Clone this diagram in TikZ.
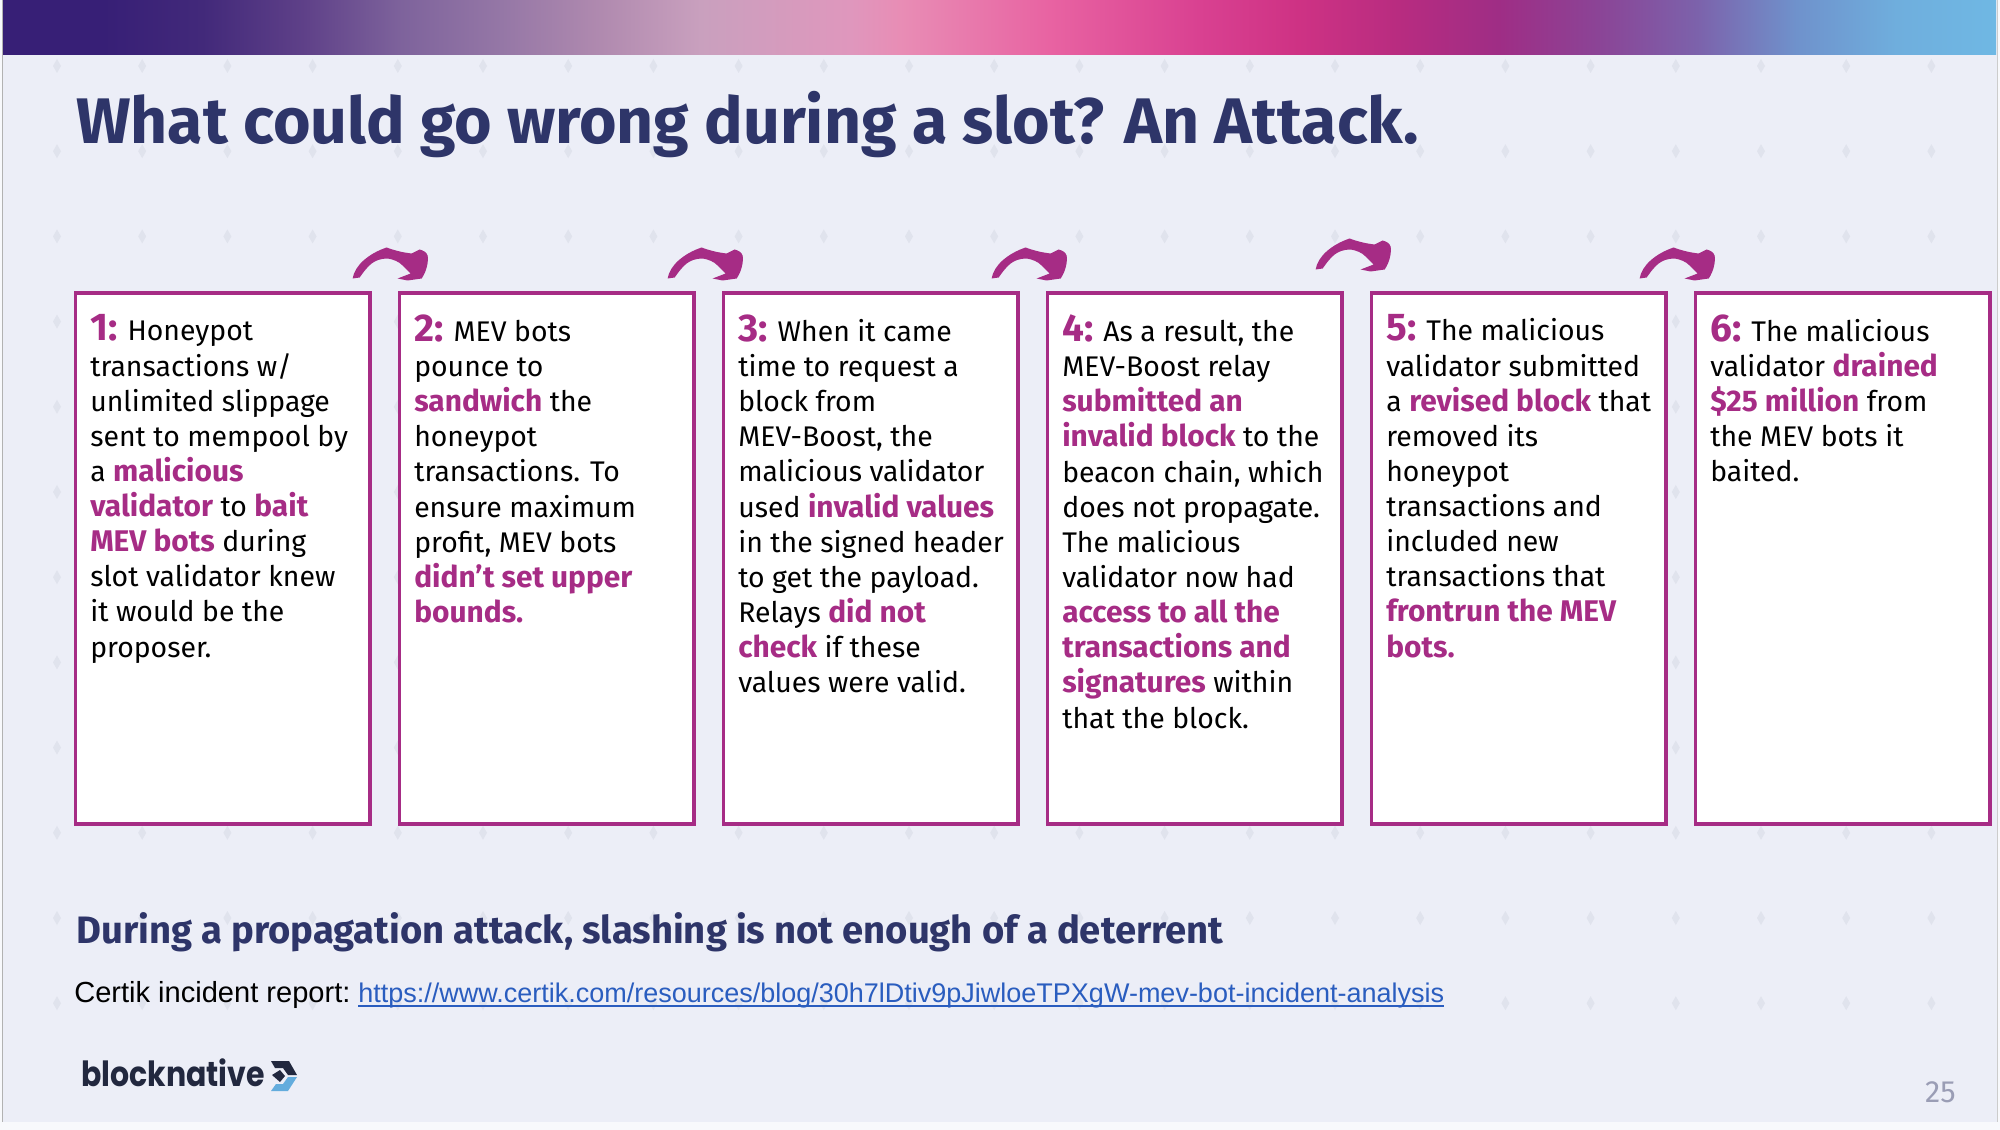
\documentclass[tikz,border=0pt]{standalone}
\usepackage{fontspec}
\setmainfont{Fira Sans}
\newfontfamily\linkfont{Liberation Sans}
\newfontfamily\logofont{Poppins}
\definecolor{bgc}{HTML}{ECEEF7}
\definecolor{edgec}{HTML}{F8F9FC}
\definecolor{dotc}{HTML}{E0E3ED}
\definecolor{mag}{HTML}{A62C85}
\definecolor{navy}{HTML}{2E3569}
\definecolor{linkc}{HTML}{2A5DBF}
\definecolor{logod}{HTML}{22283F}
\definecolor{logob}{HTML}{63ACDD}
\definecolor{pagec}{HTML}{9A9DB5}
\definecolor{topa}{HTML}{371F76}
\definecolor{topb}{HTML}{42297A}
\definecolor{topc}{HTML}{5E4088}
\definecolor{topd}{HTML}{7E639C}
\definecolor{tope}{HTML}{9577A6}
\definecolor{topf}{HTML}{B08AAF}
\definecolor{topg}{HTML}{C9A0BE}
\definecolor{toph}{HTML}{DF97BD}
\definecolor{topi}{HTML}{E88DB5}
\definecolor{topj}{HTML}{E863A2}
\definecolor{topk}{HTML}{D94191}
\definecolor{topl}{HTML}{CE3284}
\definecolor{topm}{HTML}{B82C80}
\definecolor{topn}{HTML}{9F2D85}
\definecolor{topo}{HTML}{8B4496}
\definecolor{topp}{HTML}{7C62AB}
\definecolor{topq}{HTML}{6F92CC}
\definecolor{topr}{HTML}{6FAEDD}
\definecolor{tops}{HTML}{6FB8E4}
\pgfdeclarehorizontalshading{topbar}{100bp}{
 color(0bp)=(topa);
 color(27.5bp)=(topa);
 color(30bp)=(topb);
 color(32.5bp)=(topc);
 color(35bp)=(topd);
 color(37.5bp)=(tope);
 color(40bp)=(topf);
 color(42.5bp)=(topg);
 color(46.25bp)=(toph);
 color(47.5bp)=(topi);
 color(51.25bp)=(topj);
 color(55bp)=(topk);
 color(57.5bp)=(topl);
 color(60bp)=(topm);
 color(62.5bp)=(topn);
 color(65bp)=(topo);
 color(67.5bp)=(topp);
 color(70bp)=(topq);
 color(72.5bp)=(topr);
 color(75bp)=(tops);
 color(100bp)=(tops)}
\tikzset{
 x=0.75pt,y=-0.75pt,
 card/.style={draw=mag,line width=2.6pt,fill=white,minimum width=221pt,minimum height=398pt,anchor=north west,inner sep=0pt},
 cardtext/.style={anchor=north west,inner sep=0pt,align=left,font=\fontsize{21.3}{26.35}\selectfont},
 curvearrow/.pic={\fill[mag] (0,31) .. controls (2,18) and (16,6) .. (34,0) .. controls (42,3) and (50,5) .. (59,6) -- (67,2) .. controls (71,3) and (74,5) .. (75,8)
   .. controls (76,14) and (74,24) .. (69,31) -- (55,33) -- (45,31) -- (58,26) -- (50,18) .. controls (46,14) and (41,12) .. (35,11)
   .. controls (28,11) and (23,13) .. (19,16) .. controls (13,21) and (10,26) .. (7,30) -- cycle;},
}
\newcommand{\hl}[1]{{\fontsize{22.4}{26.35}\selectfont\textbf{\textcolor{mag}{#1}}}}
\newcommand{\numl}[1]{{\fontsize{29}{26.35}\selectfont\textbf{\textcolor{mag}{#1}}}}
\begin{document}
\begin{tikzpicture}
\useasboundingbox (0,0) rectangle (2000,1130);
\fill[edgec] (0,0) rectangle (2000,1130);
\fill[bgc] (2,0) rectangle (1997,1122);
\draw[gray!60,line width=0.6pt] (2,0) -- (2,1122);
\draw[gray!40,line width=0.6pt] (1997,0) -- (1997,1122);
\foreach \i in {0,...,22}{\foreach \j in {0,...,11}{
  \fill[dotc] ({57+85.2*\i-4},{66+85.2*\j}) -- ({57+85.2*\i},{66+85.2*\j-7}) -- ({57+85.2*\i+4},{66+85.2*\j}) -- ({57+85.2*\i},{66+85.2*\j+7}) -- cycle;
}}
\shade[shading=topbar] (3,1) rectangle (1996,55);
\node[anchor=base west,inner sep=0pt,text=navy,font=\fontsize{48.3}{50}\selectfont\bfseries] (title) at (76,144) {What could go wrong during a slot? An Attack.};
\node[card] (b1) at (73.5,291.5) {};
\node[card] (b2) at (397.5,291.5) {};
\node[card] (b3) at (721.5,291.5) {};
\node[card] (b4) at (1045.5,291.5) {};
\node[card] (b5) at (1369.5,291.5) {};
\node[card] (b6) at (1693.5,291.5) {};
\node[cardtext] (t1) at ([shift={(16.5,23)}]b1.north west) {\numl{1:} Honeypot\\transactions w/\\unlimited slippage\\sent to mempool by\\a \hl{malicious}\\\hl{validator} to \hl{bait}\\\hl{MEV bots} during\\slot validator knew\\it would be the\\proposer.};
\node[cardtext] (t2) at ([shift={(16.5,23)}]b2.north west) {\numl{2:} MEV bots\\pounce to\\\hl{sandwich} the\\honeypot\\transactions. To\\ensure maximum\\profit, MEV bots\\\hl{didn’t set upper}\\\hl{bounds.}};
\node[cardtext] (t3) at ([shift={(16.5,23)}]b3.north west) {\numl{3:} When it came\\time to request a\\block from\\MEV-Boost, the\\malicious validator\\used \hl{invalid values}\\in the signed header\\to get the payload.\\Relays \hl{did not}\\\hl{check} if these\\values were valid.};
\node[cardtext] (t4) at ([shift={(16.5,23)}]b4.north west) {\numl{4:} As a result, the\\MEV-Boost relay\\\hl{submitted an}\\\hl{invalid block} to the\\beacon chain, which\\does not propagate.\\The malicious\\validator now had\\\hl{access to all the}\\\hl{transactions and}\\\hl{signatures} within\\that the block.};
\node[cardtext] (t5) at ([shift={(16.5,23)}]b5.north west) {\numl{5:} The malicious\\validator submitted\\a \hl{revised block} that\\removed its\\honeypot\\transactions and\\included new\\transactions that\\\hl{frontrun the MEV}\\\hl{bots.}};
\node[cardtext] (t6) at ([shift={(16.5,23)}]b6.north west) {\numl{6:} The malicious\\validator \hl{drained}\\\hl{\$25 million} from\\the MEV bots it\\baited.};
\path ([shift={(-19,-44)}]b1.north east) pic {curvearrow};
\path ([shift={(-28,-44)}]b2.north east) pic {curvearrow};
\path ([shift={(-28,-44)}]b3.north east) pic {curvearrow};
\path ([shift={(-28,-53)}]b4.north east) pic {curvearrow};
\path ([shift={(-28,-44)}]b5.north east) pic {curvearrow};
\node[anchor=base west,inner sep=0pt,text=navy,font=\fontsize{28.66}{30}\selectfont\bfseries] (sub) at (76,943) {During a propagation attack, slashing is not enough of a deterrent};
\node[anchor=base west,inner sep=0pt,font=\linkfont\fontsize{21.8}{25}\selectfont] (ref) at (74,1002) {Certik incident report:};
\node[anchor=base west,inner sep=0pt,text=linkc,font=\linkfont\fontsize{20.25}{25}\selectfont] (link) at (358,1002) {https://www.certik.com/resources/blog/30h7lDtiv9pJiwloeTPXgW-mev-bot-incident-analysis};
\draw[linkc,line width=1.3pt] ([yshift=-3.2pt]link.base west) -- ([yshift=-3.2pt]link.base east);
\node[anchor=base west,inner sep=0pt,text=logod,font=\logofont\fontsize{26}{30}\selectfont\bfseries] (logo) at (81,1086) {\scalebox{0.865}[1]{blocknative}};
\fill[logod] (271,1061) -- (289,1061) -- (297,1075) -- (288,1075) -- (283,1068) -- (275,1068) -- cycle;
\fill[logod] (272,1075) -- (280,1070) -- (285,1076) -- (280,1082) -- cycle;
\fill[logob] (297,1077) -- (288,1091) -- (271,1091) -- (276,1084) -- (283,1084) -- (288,1077) -- cycle;
\node[anchor=base east,inner sep=0pt,text=pagec,font=\fontsize{23}{24}\selectfont] (page) at (1956,1102) {25};
\end{tikzpicture}
\end{document}
